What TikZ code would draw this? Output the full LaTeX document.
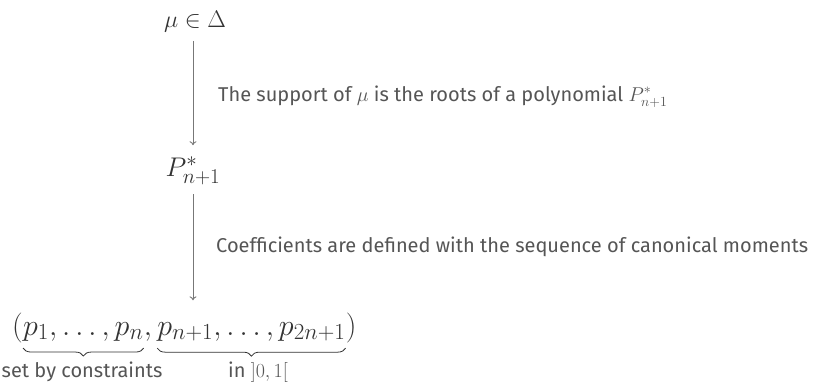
\RequirePackage{fix-cm}
\documentclass[tikz,border=0pt]{standalone}
\usepackage{amsmath}
\usepackage{fontspec}
\setsansfont{Fira Sans}
\usetikzlibrary{arrows.meta,decorations.pathreplacing}
\DeclareMathSizes{24}{24}{17}{12}
\DeclareMathSizes{27}{27}{21}{16}
\DeclareMathSizes{30}{30}{23}{18}
\definecolor{mathgray}{HTML}{333333}
\definecolor{textgray}{HTML}{555555}
\definecolor{arrowgray}{HTML}{777777}
\tikzset{
  mathnode/.style={inner sep=0pt, text=mathgray, font=\fontsize{24}{28}\selectfont},
  bigmath/.style={inner sep=0pt, text=mathgray, font=\fontsize{30}{34}\selectfont},
  pmath/.style={inner sep=0pt, text=mathgray, font=\fontsize{27}{31}\selectfont},
  lbl/.style={inner sep=0pt, text=textgray, font=\sffamily\fontsize{20}{24}\selectfont},
  conn/.style={draw=arrowgray, line width=0.9pt, -{To[length=4pt,width=7pt]}},
  bracestyle/.style={draw=mathgray, line width=0.8pt, decorate,
    decoration={brace, mirror, amplitude=8pt}},
}
\begin{document}
\begin{tikzpicture}[x=1pt,y=1pt]
\useasboundingbox (0,0) rectangle (819,-384);
% main nodes
\node[mathnode, anchor=base] (mu) at (195,-27) {$\mu \in \Delta$};
\node[pmath, anchor=base] (P) at (193,-176) {$P^*_{n+1}$};
% tuple
\node[bigmath, anchor=base west] (lpar) at (12,-335) {$($};
\node[bigmath, anchor=base west] (pa) at (lpar.base east) {$p_1,\dots,p_n$};
\node[bigmath, anchor=base west] (comma) at (pa.base east) {$,\,$};
\node[bigmath, anchor=base west] (pb) at (comma.base east) {$p_{n+1},\dots,p_{2n+1}$};
\node[bigmath, anchor=base west] (rpar) at (pb.base east) {$)$};
% connectors
\draw[conn, shorten <=9pt, shorten >=11pt] (P.north |- mu.south) -- (P.north);
\draw[conn, shorten <=9pt, shorten >=12pt] (P.south) -- (P.south |- lpar.north);
% connector labels
\node[lbl, anchor=base west] (l1) at (218,-101) {The support of $\mu$ is the roots of a polynomial $P^*_{n+1}$};
\node[lbl, anchor=base west] (l2) at (216,-252) {Coefficients are defined with the sequence of canonical moments};
% braces
\draw[bracestyle] ([yshift=-7pt]pa.south west) -- ([yshift=-7pt]pa.south east);
\draw[bracestyle] ([yshift=-7pt]pb.south west) -- ([yshift=-7pt]pb.south east);
\node[lbl, anchor=base] (b1) at (82,-377) {set by constraints};
\node[lbl, anchor=base] (b2) at (258,-377) {in $]0,1[$};
\end{tikzpicture}
\end{document}
